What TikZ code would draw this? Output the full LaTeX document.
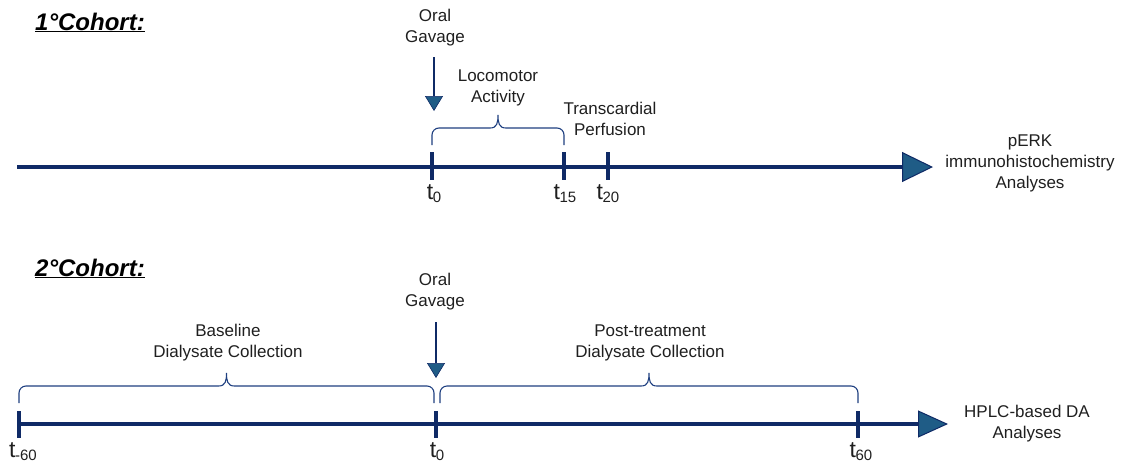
\documentclass[tikz,border=0pt]{standalone}
\usepackage{fontspec}
\setmainfont{Liberation Sans}
\usetikzlibrary{arrows.meta,calc}
\definecolor{navy}{HTML}{0F2A66}
\definecolor{headc}{HTML}{1F5C86}
\definecolor{bracec}{HTML}{1E3F80}
\newcommand\tlab[1]{\fontsize{23}{23}\selectfont t\kern-0.5pt\raisebox{-3pt}{\fontsize{15}{15}\selectfont #1}}
\begin{document}
\begin{tikzpicture}[x=1pt,y=-1pt,
  lbl/.style={font=\fontsize{17}{21}\selectfont, align=center, text=black!88, inner sep=0},
  tlbl/.style={inner sep=0, anchor=base, text=black!88},
  timeline/.style={draw=navy, line width=4pt, -{Triangle[length=31pt,width=30pt,fill=headc,line width=1pt]}},
  timeline2/.style={draw=navy, line width=3.6pt, -{Triangle[length=30pt,width=27pt,fill=headc,line width=1pt]}},
  tickmark/.style={draw=navy, line width=4pt},
  gav/.style={draw=navy, line width=1.2pt, -{Triangle[length=15pt,width=18pt,fill=headc,line width=0.6pt]}},
  brc/.style={draw=bracec, line width=1.1pt,
    to path={let \p1=(\tikztostart), \p2=(\tikztotarget), \n1={0.5*(\x1+\x2)} in
      [rounded corners=7pt] (\x1,\y1) -- (\x1,\y1+17pt) -- (\n1-8pt,\y1+17pt)
      [sharp corners] (\n1-8pt,\y1+17pt)
      .. controls (\n1-1pt,\y1+17pt) and (\n1,\y1+22pt) .. (\n1,\y1+30pt)
      .. controls (\n1,\y1+22pt) and (\n1+1pt,\y1+17pt) .. (\n1+8pt,\y1+17pt)
      [rounded corners=7pt] (\n1+8pt,\y1+17pt) -- (\x2,\y2+17pt) -- (\x2,\y2)}},
  ttl/.style={font=\fontsize{24}{24}\selectfont\bfseries\itshape, inner sep=0, anchor=base west}]
\useasboundingbox (0,0) rectangle (1130,464);

% ---------- Cohort 1 ----------
\node[ttl] (title1) at (35,30) {\underline{1°Cohort:}};
\coordinate (L1s) at (17,167);
\coordinate (L1e) at (933,167);
\draw[timeline] (L1s) -- (L1e);

\coordinate (a0t) at (432,152); \coordinate (a0b) at (432,180);
\coordinate (a15t) at (564,152); \coordinate (a15b) at (564,180);
\coordinate (a20t) at (608,152); \coordinate (a20b) at (608,180);
\draw[tickmark] (a0t) -- (a0b);
\draw[tickmark] (a15t) -- (a15b);
\draw[tickmark] (a20t) -- (a20b);

\node[tlbl] (lt0) at (434,199) {\tlab{0}};
\node[tlbl] (lt15) at (565,199) {\tlab{15}};
\node[tlbl] (lt20) at (608,199) {\tlab{20}};

\node[lbl] (og1) at (435,28) {Oral\\Gavage};
\coordinate (g1s) at (434,57);
\coordinate (g1e) at (434,111);
\draw[gav] (g1s) -- (g1e);

\node[lbl] (loco) at (498,88) {Locomotor\\Activity};
\coordinate (b1s) at (432,145);
\coordinate (b1e) at (564,145);
\draw[brc] (b1s) to (b1e);

\node[lbl] (perf) at (610,119) {Transcardial\\Perfusion};
\node[lbl] (perk) at (1030,163) {pERK\\immunohistochemistry\\Analyses};

% ---------- Cohort 2 ----------
\node[ttl] (title2) at (35,276) {\underline{2°Cohort:}};
\coordinate (L2s) at (19,424);
\coordinate (L2e) at (948,424);
\draw[timeline2] (L2s) -- (L2e);

\coordinate (c60t) at (19,411); \coordinate (c60b) at (19,438);
\coordinate (c0t) at (436,411); \coordinate (c0b) at (436,438);
\coordinate (cp60t) at (858,411); \coordinate (cp60b) at (858,438);
\draw[tickmark] (c60t) -- (c60b);
\draw[tickmark] (c0t) -- (c0b);
\draw[tickmark] (cp60t) -- (cp60b);

\node[tlbl] (lm60) at (23,457) {\tlab{-60}};
\node[tlbl] (l2t0) at (437,457) {\tlab{0}};
\node[tlbl] (lp60) at (861,457) {\tlab{60}};

\node[lbl] (og2) at (435,292) {Oral\\Gavage};
\coordinate (g2s) at (436,322);
\coordinate (g2e) at (436,378);
\draw[gav] (g2s) -- (g2e);

\coordinate (b2s) at (19,403);
\coordinate (b2e) at (434,403);
\draw[brc] (b2s) to (b2e);
\coordinate (b3s) at (440,403);
\coordinate (b3e) at (858,403);
\draw[brc] (b3s) to (b3e);

\node[lbl] (base) at (228,343) {Baseline\\Dialysate Collection};
\node[lbl] (post) at (650,343) {Post-treatment\\Dialysate Collection};
\node[lbl] (hplc) at (1027,424) {HPLC-based DA\\Analyses};
\end{tikzpicture}
\end{document}
